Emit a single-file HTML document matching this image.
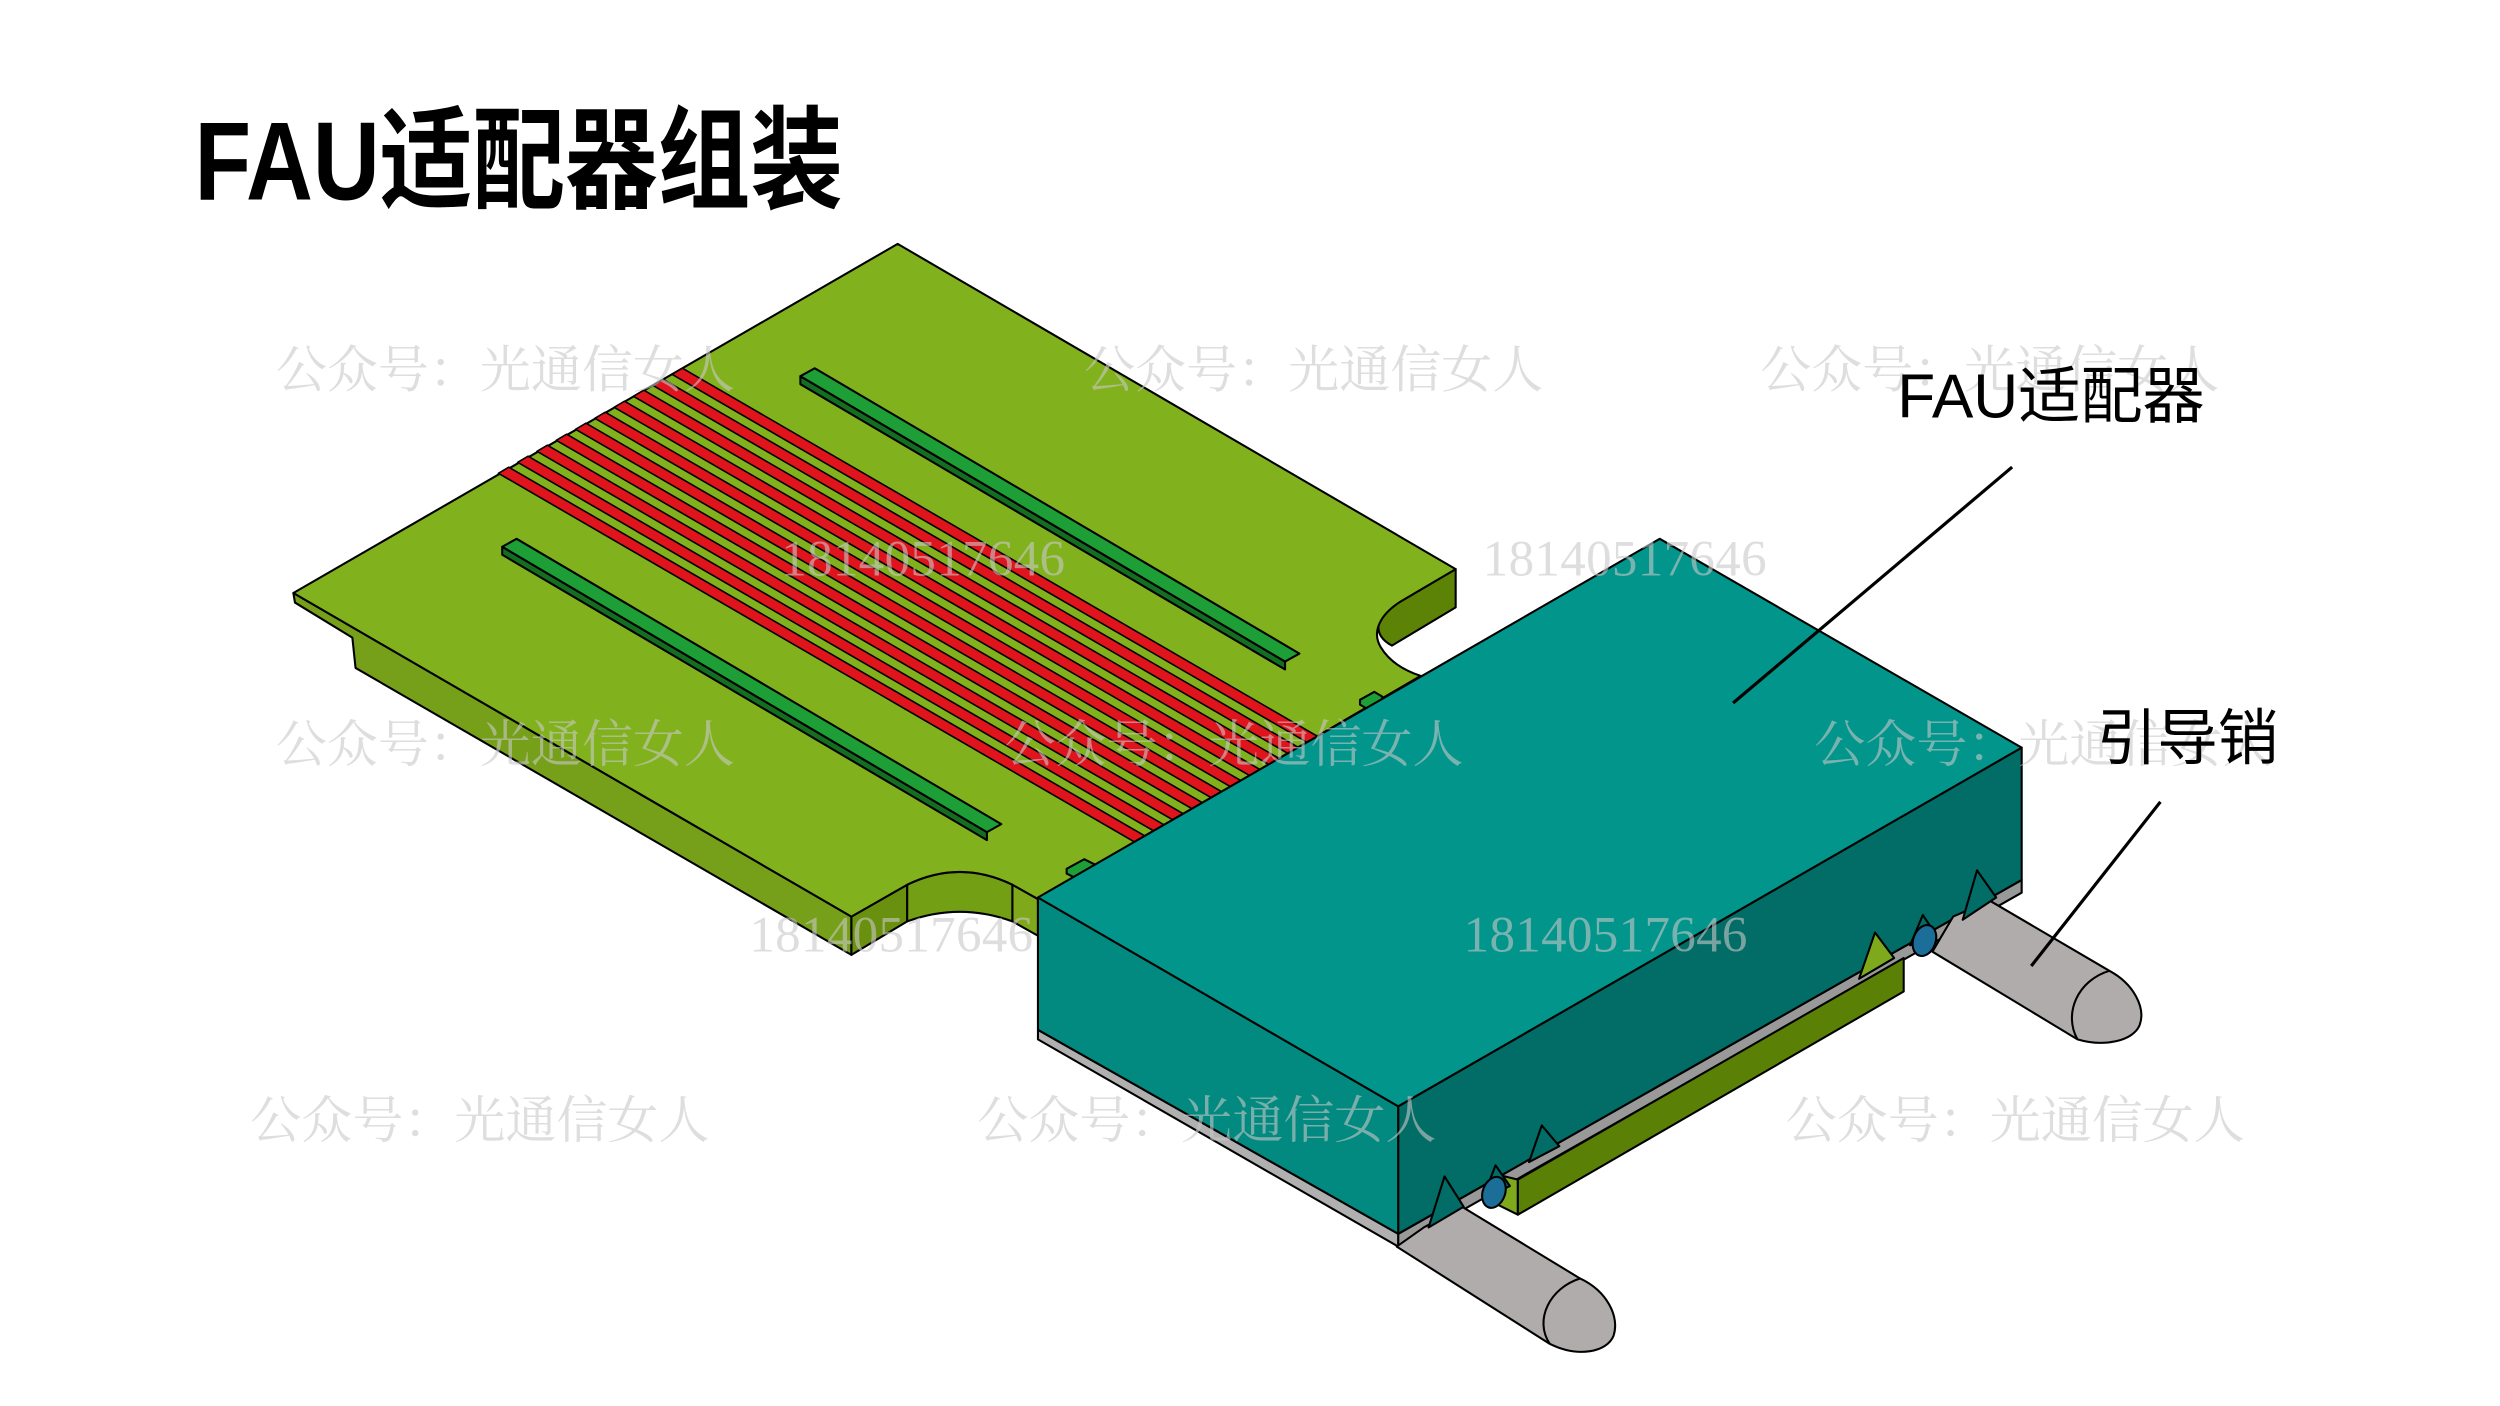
<!DOCTYPE html>
<html><head><meta charset="utf-8"><style>
html,body{margin:0;padding:0;background:#fff;}
svg{display:block;}
.wm{font-family:"Noto Serif CJK SC","Liberation Serif",serif;font-size:32px;fill:#c8c8c8;fill-opacity:0.6;}
.wn{font-family:"Liberation Serif",serif;font-size:32px;fill:#c8c8c8;fill-opacity:0.6;}
</style></head><body>
<svg width="2500" height="1406" viewBox="0 0 1568 882" preserveAspectRatio="none" xmlns="http://www.w3.org/2000/svg">
<rect width="1568" height="882" fill="#fff"/>
<g stroke="#000" stroke-width="1.3" stroke-linejoin="round">
<polygon points="184,372 185,378 221,400 223,419 534,599 534,575" fill="#76a01a"/>
<polygon points="534,575 569,555 569,578 534,599" fill="#6a9010"/>
<path d="M569,555 Q602,539 635,555 L635,578 Q602,566 569,578 Z" fill="#739f14"/>
<polygon points="635,555 651,564 651,587 635,578" fill="#80a81b"/>
<path d="M913,357 L913,381 L873,405 C860,398 862,386 879,377 Z" fill="#5c8206"/>
<path d="M184,372 L563,153 L913,357 L879,377 C866,385 860,396 866,406 C872,416 882,421 891,424 L651,564 L635,555 Q602,539 569,555 L534,575 Z" fill="#82b11e"/>
<g fill="#e0141c" stroke-width="1">
<polygon points="0,0 433,251 426.5,254.8 -6.5,3.8" transform="translate(428,231)"/>
<polygon points="0,0 433,251 426.5,254.8 -6.5,3.8" transform="translate(415.9,237.9)"/>
<polygon points="0,0 433,251 426.5,254.8 -6.5,3.8" transform="translate(403.8,244.8)"/>
<polygon points="0,0 433,251 426.5,254.8 -6.5,3.8" transform="translate(391.7,251.7)"/>
<polygon points="0,0 433,251 426.5,254.8 -6.5,3.8" transform="translate(379.6,258.6)"/>
<polygon points="0,0 433,251 426.5,254.8 -6.5,3.8" transform="translate(367.5,265.5)"/>
<polygon points="0,0 433,251 426.5,254.8 -6.5,3.8" transform="translate(355.4,272.4)"/>
<polygon points="0,0 433,251 426.5,254.8 -6.5,3.8" transform="translate(343.3,279.3)"/>
<polygon points="0,0 433,251 426.5,254.8 -6.5,3.8" transform="translate(331.2,286.2)"/>
<polygon points="0,0 433,251 426.5,254.8 -6.5,3.8" transform="translate(319.1,293.1)"/>
</g>
<polygon points="502,236 806,415 806,420 502,241" fill="#146e22"/>
<polygon points="511,231 815,410 806,415 502,236" fill="#1e9e36"/>
<polygon points="315,343 619,522 619,527 315,348" fill="#146e22"/>
<polygon points="324,338 628,517 619,522 315,343" fill="#1e9e36"/>
<polygon points="853,439 862,434 867,437 867,440 858,445 853,442" fill="#1e9e36"/>
<polygon points="669,545 680,539 688,543 688,546 677,552 669,548" fill="#1e9e36"/>
<polygon points="651,646 877,774 877,782 651,652" fill="#b0b0b0"/>
<polygon points="877,774 1268,552 1268,560 877,782" fill="#999"/>
<polygon points="651,563 877,694 877,774 651,646" fill="#028a80"/>
<polygon points="877,694 1268,469 1268,552 877,774" fill="#026c66"/>
<polygon points="1041,338 1268,469 877,694 651,563" fill="#02958b"/>
<polygon points="940,737 952,740 952,762 940,756" fill="#7fa91c"/>
<polygon points="952,740 1194,601 1194,622 952,762" fill="#5a8106"/>
<path d="M893,770 L917,757 L991,802 C1008,810 1016,826 1012,838 C1008,848 990,852 972,843 L876,782 Z" fill="#b0acab"/>
<path d="M991,802 C972,808 962,828 972,843" fill="none"/>
<path d="M1225,575 L1248,565 L1323,609 C1338,617 1346,632 1342,643 C1338,653 1320,657 1303,652 L1212,597 Z" fill="#b0acab"/>
<path d="M1323,609 C1303,615 1294,636 1303,652" fill="none"/>
<polygon points="906,738 896,770 918,757" fill="#026c66"/>
<polygon points="938,731 930,752 947,744" fill="#026c66"/>
<polygon points="967,706 959,729 978,719" fill="#026c66"/>
<polygon points="1176,585 1166,614 1188,601" fill="#7fa91c"/>
<polygon points="1206,574 1198,593 1214,586" fill="#026c66"/>
<polygon points="1240,546 1231,577 1252,563" fill="#026c66"/>
<ellipse cx="937" cy="748" rx="7" ry="10" transform="rotate(20 937 748)" fill="#1a6e98"/>
<ellipse cx="1207" cy="590" rx="7" ry="10" transform="rotate(20 1207 590)" fill="#1a6e98"/>
</g>
<line x1="1262" y1="293" x2="1087" y2="441" stroke="#000" stroke-width="2"/>
<line x1="1355" y1="503" x2="1274" y2="606" stroke="#000" stroke-width="2"/>
<text class="wm" x="173" y="243">公众号：光通信女人</text>
<text class="wm" x="680" y="243">公众号：光通信女人</text>
<text class="wm" x="1104" y="243">公众号：光通信女人</text>
<text class="wm" x="173" y="478">公众号：光通信女人</text>
<text class="wm" x="630" y="478">公众号：光通信女人</text>
<text class="wm" x="1138" y="478">公众号：光通信女人</text>
<text class="wm" x="157" y="714">公众号：光通信女人</text>
<text class="wm" x="613" y="714">公众号：光通信女人</text>
<text class="wm" x="1120" y="714">公众号：光通信女人</text>
<text class="wn" x="930" y="361" textLength="178">18140517646</text>
<text class="wn" x="470" y="597" textLength="178">18140517646</text>
<text class="wn" x="918" y="597" textLength="178">18140517646</text>
<text class="wn" x="490" y="361" textLength="178">18140517646</text>
<text x="1190" y="262" font-family="'Liberation Sans','Noto Sans CJK SC',sans-serif" font-size="39" fill="#000">FAU适配器</text>
<text x="1315" y="476" font-family="'Noto Sans CJK SC',sans-serif" font-size="38" fill="#000">引导销</text>
<text transform="translate(122,125) scale(0.83,1)" font-family="'Liberation Sans','Noto Sans CJK SC',sans-serif" font-weight="bold" font-size="70" fill="#000">FAU适配器组装</text>
</svg>
</body></html>
